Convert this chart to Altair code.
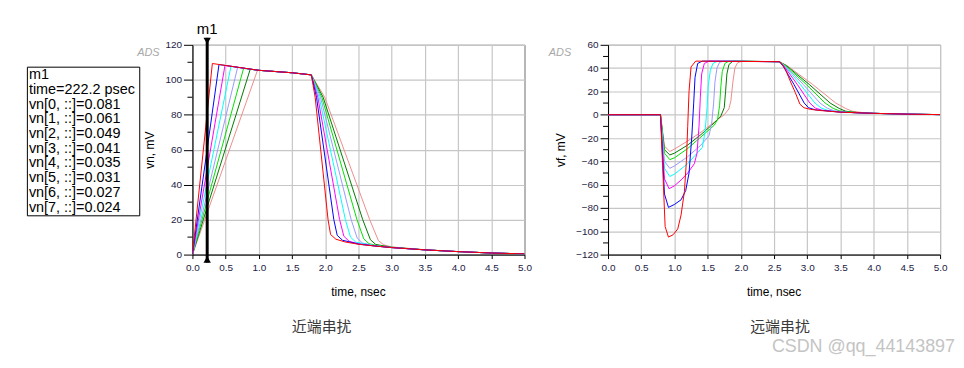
import altair as alt
import pandas as pd

# ---------------- data ----------------
SERIES = [0, 1, 2, 3, 4, 5, 6, 7]
COLORS = ["#ff0000", "#0000ff", "#ff00ff", "#00ffff", "#9999ff", "#00e000", "#007a00", "#ee8c8c"]

# near end crosstalk vn (mV) vs time (ns)
NE_T = [
    [0, 0.30, 1.0, 1.5, 1.79, 1.848, 2.042, 2.08, 2.16, 2.3, 2.5, 2.75, 3.0, 3.5, 4.0, 4.5, 5.0],
    [0, 0.40, 1.0, 1.5, 1.79, 1.868, 2.129, 2.18, 2.26, 2.5, 2.75, 3.0, 3.5, 4.0, 4.5, 5.0],
    [0, 0.49, 1.0, 1.5, 1.79, 1.888, 2.216, 2.28, 2.36, 2.5, 2.75, 3.0, 3.5, 4.0, 4.5, 5.0],
    [0, 0.58, 1.0, 1.5, 1.79, 1.908, 2.303, 2.38, 2.46, 2.75, 3.0, 3.5, 4.0, 4.5, 5.0],
    [0, 0.68, 1.0, 1.5, 1.79, 1.928, 2.390, 2.48, 2.56, 2.75, 3.0, 3.5, 4.0, 4.5, 5.0],
    [0, 0.77, 1.0, 1.5, 1.79, 1.948, 2.477, 2.58, 2.66, 2.8, 3.0, 3.5, 4.0, 4.5, 5.0],
    [0, 0.87, 1.0, 1.5, 1.79, 1.968, 2.564, 2.68, 2.76, 3.0, 3.5, 4.0, 4.5, 5.0],
    [0, 0.98, 1.5, 1.79, 1.992, 2.669, 2.80, 2.88, 3.0, 3.5, 4.0, 4.5, 5.0],
]
NE_V = [
    [0, 109.3, 105.4, 104.0, 102.8, 90, 20, 11.5, 8.8, 7.2, 5.9, 4.9, 4.0, 2.7, 1.7, 0.9, 0.4],
    [0, 108.7, 105.4, 104.0, 102.8, 90, 20, 11.0, 8.2, 6.0, 4.9, 4.0, 2.7, 1.7, 0.9, 0.4],
    [0, 108.2, 105.4, 104.0, 102.8, 90, 20, 10.5, 7.6, 6.2, 4.9, 4.0, 2.7, 1.7, 0.9, 0.4],
    [0, 107.6, 105.4, 104.0, 102.8, 90, 20, 10.0, 7.1, 5.0, 4.0, 2.7, 1.7, 0.9, 0.4],
    [0, 107.0, 105.4, 104.0, 102.8, 90, 20, 9.5, 6.6, 5.1, 4.0, 2.7, 1.7, 0.9, 0.4],
    [0, 106.5, 105.4, 104.0, 102.8, 90, 20, 9.0, 6.2, 5.0, 4.1, 2.7, 1.7, 0.9, 0.4],
    [0, 106.0, 105.4, 104.0, 102.8, 90, 20, 8.5, 5.8, 4.2, 2.7, 1.7, 0.9, 0.4],
    [0, 105.5, 104.0, 102.8, 90, 20, 8.0, 5.6, 4.4, 2.8, 1.7, 0.9, 0.4],
]

# far end crosstalk vf (mV) vs time (ns)
FE_T = [
    [0, 0.79, 0.86, 0.91, 0.98, 1.05, 1.10, 1.15, 1.18, 1.20, 1.22, 1.25, 1.32, 2.58, 2.62, 2.67, 2.75, 2.82, 2.89, 2.95, 3.05, 3.2, 3.5, 4.0, 4.5, 5.0],
    [0, 0.79, 0.85, 0.91, 1.0, 1.10, 1.17, 1.22, 1.26, 1.29, 1.31, 1.35, 1.42, 2.58, 2.633, 2.80, 2.954, 3.02, 3.12, 3.5, 4.0, 4.5, 5.0],
    [0, 0.79, 0.85, 0.92, 1.0, 1.1, 1.2, 1.30, 1.34, 1.37, 1.39, 1.41, 1.45, 1.52, 2.58, 2.645, 2.85, 3.039, 3.12, 3.22, 3.5, 4.0, 4.5, 5.0],
    [0, 0.79, 0.85, 0.93, 1.0, 1.2, 1.42, 1.46, 1.49, 1.51, 1.54, 1.58, 1.65, 2.58, 2.656, 2.895, 3.116, 3.21, 3.31, 3.5, 4.0, 4.5, 5.0],
    [0, 0.79, 0.85, 0.93, 1.0, 1.2, 1.4, 1.52, 1.56, 1.59, 1.61, 1.64, 1.68, 1.75, 2.58, 2.666, 2.94, 3.192, 3.30, 3.40, 3.6, 4.0, 4.5, 5.0],
    [0, 0.79, 0.85, 0.93, 1.0, 1.2, 1.4, 1.6, 1.65, 1.68, 1.70, 1.72, 1.76, 1.82, 2.58, 2.677, 2.985, 3.269, 3.39, 3.49, 3.7, 4.0, 4.5, 5.0],
    [0, 0.79, 0.85, 0.93, 1.0, 1.2, 1.4, 1.6, 1.70, 1.75, 1.77, 1.79, 1.82, 1.88, 2.58, 2.688, 3.03, 3.345, 3.48, 3.58, 3.8, 4.0, 4.5, 5.0],
    [0, 0.79, 0.85, 0.93, 1.0, 1.2, 1.4, 1.6, 1.75, 1.82, 1.85, 1.88, 1.91, 1.95, 2.02, 2.58, 2.70, 3.08, 3.43, 3.58, 3.68, 3.85, 4.0, 4.5, 5.0],
]
FE_V = [
    [0, 0, -96, -105, -103, -98, -86, -66, -40, -10, 20, 41, 46, 45.5, 43.5, 39, 28, 19, 9, 6, 4.6, 3.6, 2.2, 1.2, 0.5, 0.1],
    [0, 0, -68, -79.5, -77, -73, -65, -50, -20, 10, 32, 44, 46, 45.5, 42, 26, 10, 6, 4.2, 2.2, 1.2, 0.5, 0.1],
    [0, 0, -55, -63.5, -61, -56, -50, -42, -33, -10, 15, 35, 44, 46, 45.5, 42, 26, 10, 5.8, 3.9, 2.2, 1.2, 0.5, 0.1],
    [0, 0, -46, -53, -51, -42, -28, -15, 5, 25, 38, 44, 46, 45.5, 42, 26, 10, 5.7, 3.7, 2.3, 1.2, 0.5, 0.1],
    [0, 0, -40, -46, -44, -36, -26, -18, -8, 10, 28, 40, 45, 46, 45.5, 42, 26, 10, 5.6, 3.5, 2.0, 1.2, 0.5, 0.1],
    [0, 0, -33, -38.5, -37, -29, -19, -9, -4, 8, 25, 37, 44, 46, 45.5, 42, 26, 10, 5.5, 3.2, 1.8, 1.2, 0.5, 0.1],
    [0, 0, -30, -34.5, -33, -26, -17, -7, -1, 6, 20, 35, 43, 46, 45.5, 42, 26, 10, 5.4, 3.0, 1.6, 1.2, 0.5, 0.1],
    [0, 0, -27, -31.5, -29.5, -22.5, -15, -6.3, 0, 5, 12, 28, 40, 44.5, 46, 45.5, 42, 26, 10, 5.3, 3.0, 1.7, 1.2, 0.5, 0.1],
]

X_TICKS = [0.0, 0.5, 1.0, 1.5, 2.0, 2.5, 3.0, 3.5, 4.0, 4.5, 5.0]
NE_Y_TICKS = [0, 20, 40, 60, 80, 100, 120]
NE_Y_MINOR = [10, 30, 50, 70, 90, 110]
FE_Y_TICKS = [-120, -100, -80, -60, -40, -20, 0, 20, 40, 60]
FE_Y_MINOR = [-110, -90, -70, -50, -30, -10, 10, 30, 50]

MARKER_T = [0.2222]
MARKER_NAME = "m1"
MARKER_LINES = ["m1", "time=222.2 psec",
                "vn[0, ::]=0.081", "vn[1, ::]=0.061", "vn[2, ::]=0.049", "vn[3, ::]=0.041",
                "vn[4, ::]=0.035", "vn[5, ::]=0.031", "vn[6, ::]=0.027", "vn[7, ::]=0.024"]
NE_YTITLE = "vn, mV"
FE_YTITLE = "vf, mV"
XTITLE = "time, nsec"
NE_CAPTION = "近端串扰"
FE_CAPTION = "远端串扰"
WATERMARK = "CSDN @qq_44143897"

# ---------------- helpers ----------------
W, H = 334, 211
FONT = "Liberation Sans, Arial, sans-serif"
LABEL_COLOR = "#222244"
XSCALE = alt.Scale(domain=[0, 5], nice=False, zero=False)


def frame(T, V):
    rows = []
    for k in reversed(SERIES):
        for i, (t, v) in enumerate(zip(T[k], V[k])):
            rows.append({"s": k, "t": t, "v": v, "o": i})
    return pd.DataFrame(rows)


one = pd.DataFrame({"k": [0]})

XAXIS = alt.Axis(values=X_TICKS, format=".1f", grid=True, gridColor="#c6c6c6", gridWidth=1.2,
                 domainColor="black", tickColor="black", tickSize=4, labelPadding=4,
                 labelFontSize=10, labelColor=LABEL_COLOR, labelFont=FONT, labelFlush=False,
                 title=None)


def yaxis(values, tick_size):
    return alt.Axis(values=values, grid=True, gridColor="#c6c6c6", gridWidth=1.2,
                    domainColor="black", tickColor="black", tickSize=tick_size, labelPadding=2,
                    labelFontSize=10, labelColor=LABEL_COLOR, labelFont=FONT, labelFlush=False,
                    title=None)


def panel(T, V, yticks, yminor, ydomain, ytitle, caption, tick_size, ytitle_x, ads_x, caption_x):
    ya = yaxis(yticks, tick_size)
    ys = alt.Scale(domain=ydomain, nice=False, zero=False)
    lines = alt.Chart(frame(T, V)).mark_line(strokeWidth=1, clip=True).encode(
        x=alt.X("t:Q", scale=XSCALE, axis=XAXIS),
        y=alt.Y("v:Q", scale=ys, axis=ya),
        color=alt.Color("s:N", scale=alt.Scale(domain=SERIES, range=COLORS), legend=None),
        order="o:Q",
    )
    minor = alt.Chart(pd.DataFrame({"v": yminor})).mark_rule(color="black", strokeWidth=1).encode(
        y=alt.Y("v:Q", scale=ys, axis=ya), x=alt.value(-5), x2=alt.value(0)
    )
    ads = alt.Chart(one).mark_text(text="ADS", font="Liberation Sans Narrow, Liberation Sans",
                                   fontSize=11, fontStyle="italic", color="#a8a8a8",
                                   align="right", baseline="middle").encode(
        x=alt.value(ads_x), y=alt.value(8))
    yt = alt.Chart(one).mark_text(text=ytitle, font=FONT, fontSize=12, color="black", angle=270,
                                  align="center", baseline="middle").encode(
        x=alt.value(ytitle_x), y=alt.value(106))
    xt = alt.Chart(one).mark_text(text=XTITLE, font=FONT, fontSize=12, color="black",
                                  align="center", baseline="middle").encode(
        x=alt.value(167), y=alt.value(249))
    cap = alt.Chart(one).mark_text(text=caption, font="Noto Sans CJK SC", fontSize=15,
                                   color="#3a3a3a", align="center", baseline="middle").encode(
        x=alt.value(caption_x), y=alt.value(284))
    return [lines, minor, ads, yt, xt, cap]


left_layers = panel(NE_T, NE_V, NE_Y_TICKS, NE_Y_MINOR, [0, 120], NE_YTITLE, NE_CAPTION,
                    9, -43, -33, 130)

mk = pd.DataFrame({"t": MARKER_T})
MX = alt.X("t:Q", scale=XSCALE, axis=XAXIS)
marker_rule = alt.Chart(mk).mark_rule(color="black", strokeWidth=3).encode(
    x=MX, y=alt.value(-7), y2=alt.value(219))
tri_top = alt.Chart(mk).mark_point(shape="triangle-down", filled=True, color="black",
                                   size=55, opacity=1).encode(x=MX, y=alt.value(-4))
tri_bot = alt.Chart(mk).mark_point(shape="triangle-up", filled=True, color="black",
                                   size=55, opacity=1).encode(x=MX, y=alt.value(216))
mname = alt.Chart(mk).mark_text(text=MARKER_NAME, font=FONT, fontSize=15, color="black",
                                align="center", baseline="middle").encode(x=MX, y=alt.value(-16))
box = alt.Chart(one).mark_rect(fill="white", stroke="black", strokeWidth=1).encode(
    x=alt.value(-166), x2=alt.value(-53), y=alt.value(22.5), y2=alt.value(172))
box_text = alt.Chart(one).mark_text(font=FONT, fontSize=14.5, color="black", align="left",
                                    baseline="top", lineHeight=14.8).encode(
    x=alt.value(-164.5), y=alt.value(23.5), text=alt.value(MARKER_LINES))

left = alt.layer(*left_layers, marker_rule, tri_top, tri_bot, mname, box, box_text).properties(
    width=W, height=H)

right_layers = panel(FE_T, FE_V, FE_Y_TICKS, FE_Y_MINOR, [-120, 60], FE_YTITLE, FE_CAPTION,
                     8, -47, -37, 173)
wm = alt.Chart(one).mark_text(text=WATERMARK, font=FONT, fontSize=18, color="#c4c4c4",
                              align="right", baseline="alphabetic").encode(
    x=alt.value(349), y=alt.value(309))
right = alt.layer(*right_layers, wm).properties(width=W, height=H)

chart = alt.hconcat(left, right, spacing=15).properties(
    padding={"left": 18.5, "top": 12, "right": 0, "bottom": 0}
).configure_view(stroke="#404040", strokeWidth=1)

chart.save("out.html", embed_options={"renderer": "svg", "actions": False})
